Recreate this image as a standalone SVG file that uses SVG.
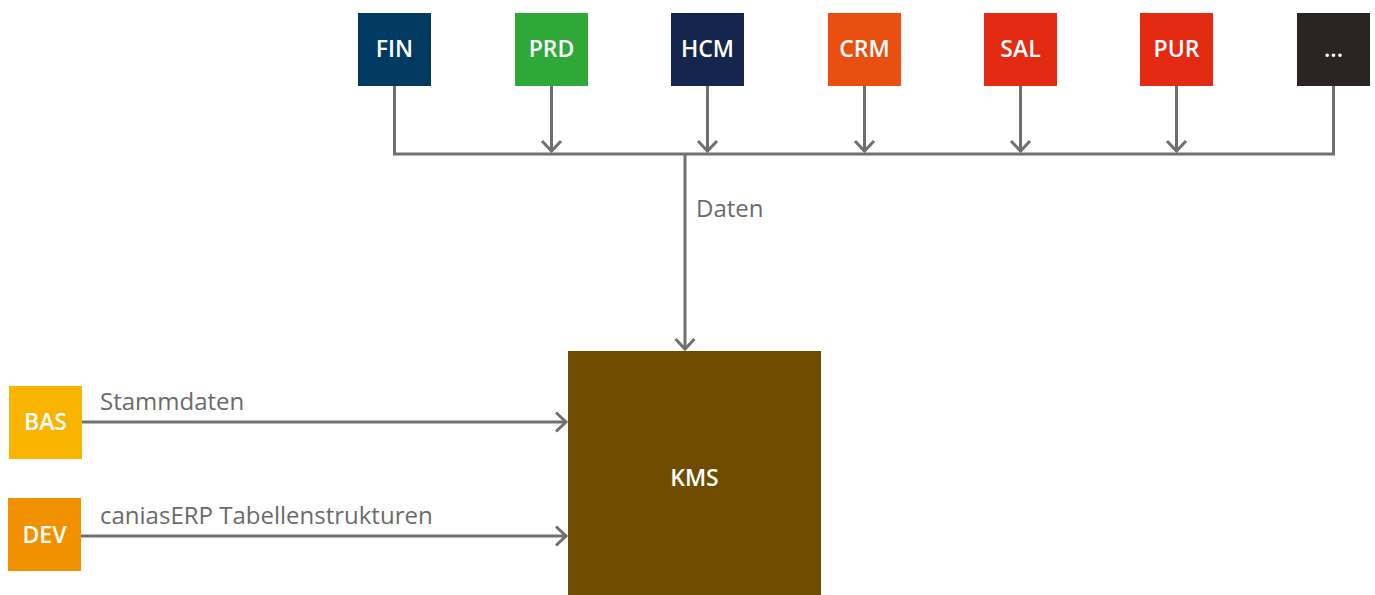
<svg xmlns="http://www.w3.org/2000/svg" width="1375" height="595" viewBox="0 0 1375 595">
  <style>
    .box-label { font-family: "Open Sans", "Noto Sans", sans-serif; font-size: 23px; font-weight: 600; fill: #ffffff; text-anchor: middle; dominant-baseline: central; }
    .edge-label { font-family: "Open Sans", "Noto Sans", sans-serif; font-size: 24px; fill: #6b6b6b; }
    .wire { fill: none; stroke: #707070; stroke-width: 3; }
    .head { fill: none; stroke: #707070; stroke-width: 3; }
  </style>
  <rect width="1375" height="595" fill="#ffffff"/>

  <!-- module nodes -->
  <g id="node-fin"><rect x="358" y="13" width="73" height="73" fill="#003a63"/><text class="box-label" x="394.5" y="47.5">FIN</text></g>
  <g id="node-prd"><rect x="515" y="13" width="73" height="73" fill="#2ea836"/><text class="box-label" x="551.5" y="47.5">PRD</text></g>
  <g id="node-hcm"><rect x="671" y="13" width="73" height="73" fill="#16254d"/><text class="box-label" x="707.5" y="47.5">HCM</text></g>
  <g id="node-crm"><rect x="828" y="13" width="73" height="73" fill="#e84f10"/><text class="box-label" x="864.5" y="47.5">CRM</text></g>
  <g id="node-sal"><rect x="984" y="13" width="73" height="73" fill="#e42a12"/><text class="box-label" x="1020.5" y="47.5">SAL</text></g>
  <g id="node-pur"><rect x="1140" y="13" width="73" height="73" fill="#e42a12"/><text class="box-label" x="1176.5" y="47.5">PUR</text></g>
  <g id="node-more"><rect x="1297" y="13" width="73" height="73" fill="#2a2522"/><text class="box-label" x="1333.5" y="47.5">...</text></g>

  <g id="node-bas"><rect x="9" y="386" width="73" height="73" fill="#f9b400"/><text class="box-label" x="45.5" y="421">BAS</text></g>
  <g id="node-dev"><rect x="8" y="498" width="73" height="73" fill="#f29100"/><text class="box-label" x="44.5" y="534">DEV</text></g>

  <g id="node-kms"><rect x="568" y="351" width="253" height="244" fill="#704c00"/><text class="box-label" x="694.5" y="477">KMS</text></g>

  <!-- connectors -->
  <g id="connectors">
    <!-- collecting bus -->
    <path class="wire" d="M394.5 86 V154 H1333.5 V86"/>
    <path class="wire" d="M551.5 86 V152 M707.5 86 V152 M864.5 86 V152 M1020.5 86 V152 M1176.5 86 V152"/>
    <path class="head" d="M542 141 L551.5 151 L561 141 M698 141 L707.5 151 L717 141 M855 141 L864.5 151 L874 141 M1011 141 L1020.5 151 L1030 141 M1167 141 L1176.5 151 L1186 141"/>
    <!-- bus to KMS -->
    <path class="wire" d="M685 154 V349"/>
    <path class="head" d="M675.5 339 L685 349 L694.5 339"/>
    <!-- side inputs -->
    <path class="wire" d="M82 422 H566"/>
    <path class="head" d="M556 412.5 L566 422 L556 431.5"/>
    <path class="wire" d="M81 536 H566"/>
    <path class="head" d="M556 526.5 L566 536 L556 545.5"/>
    <text class="edge-label" x="696" y="217">Daten</text>
    <text class="edge-label" x="100" y="410">Stammdaten</text>
    <text class="edge-label" x="100" y="524">caniasERP Tabellenstrukturen</text>
  </g>
</svg>
